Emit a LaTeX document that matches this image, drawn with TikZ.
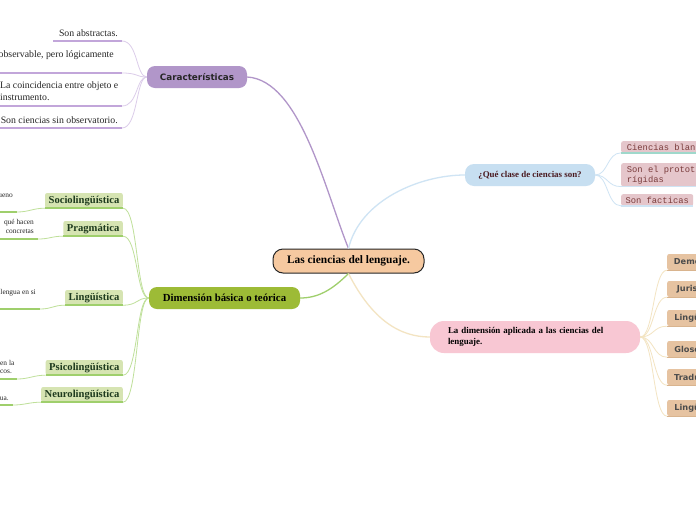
\documentclass[tikz,border=0pt]{standalone}
\usepackage{fontspec}
\usetikzlibrary{calc}
\setmainfont{Liberation Serif}
\newfontfamily\verd{DejaVu Sans}
\newfontfamily\monof{Liberation Mono}
\definecolor{peach}{HTML}{F6C9A0}
\definecolor{purp}{HTML}{B196C9}
\definecolor{purpline}{HTML}{C2A6DA}
\definecolor{purpthin}{HTML}{DCCDEA}
\definecolor{olive}{HTML}{9DBB36}
\definecolor{greenbox}{HTML}{D6E4B2}
\definecolor{greenline}{HTML}{9FCF6C}
\definecolor{greenthin}{HTML}{BFE09A}
\definecolor{greentext}{HTML}{1E3A1E}
\definecolor{bluebox}{HTML}{C7DFF1}
\definecolor{bluethin}{HTML}{CFE4F4}
\definecolor{rosebox}{HTML}{E5C6CB}
\definecolor{rosetext}{HTML}{7A3C3C}
\definecolor{teal}{HTML}{9FD8CB}
\definecolor{pinkbox}{HTML}{F8C7D3}
\definecolor{tanbox}{HTML}{E6C3A1}
\definecolor{tanline}{HTML}{D9B48E}
\definecolor{tanthin}{HTML}{F3E4C2}
\definecolor{bluetext}{HTML}{4A1A20}
\tikzset{
  centralbox/.style={draw=black!85, line width=1pt, fill=peach, rounded corners=10pt,
     minimum width=151pt, minimum height=24pt, font=\bfseries\fontsize{11.4}{13}\selectfont, inner sep=0pt},
  purpbox/.style={fill=purp, rounded corners=8pt, minimum width=100pt, minimum height=22pt,
     font=\verd\bfseries\fontsize{8.8}{10}\selectfont, text=black!85, inner sep=0pt},
  leaftext/.style={font=\fontsize{9.8}{11.5}\selectfont, inner sep=0pt, text=black!85},
  smalltext/.style={font=\fontsize{7.4}{8.6}\selectfont, inner sep=0pt, text=black!85},
  olivebox/.style={fill=olive, rounded corners=8pt, minimum width=151pt, minimum height=22pt,
     font=\bfseries\fontsize{10.8}{12}\selectfont, inner sep=0pt},
  greenleaf/.style={fill=greenbox, rounded corners=2pt, minimum height=15pt, anchor=east,
     font=\bfseries\fontsize{10.6}{12}\selectfont, text=greentext, inner xsep=3.5pt, inner ysep=0pt},
  bluenode/.style={fill=bluebox, rounded corners=9pt, minimum width=130pt, minimum height=22pt,
     font=\bfseries\fontsize{8.9}{10}\selectfont, text=bluetext, inner sep=0pt},
  roseleaf/.style={fill=rosebox, rounded corners=2pt, anchor=north west, align=left,
     font=\monof\fontsize{8.8}{10}\selectfont, text=rosetext, inner xsep=3pt, inner ysep=2.5pt},
  pinknode/.style={fill=pinkbox, rounded corners=14pt, minimum width=210pt, minimum height=32pt,
     font=\bfseries\fontsize{8.9}{11}\selectfont, align=left, text width=174pt, inner sep=0pt},
  tanleaf/.style={fill=tanbox, rounded corners=2pt, minimum height=16pt, anchor=west,
     font=\verd\bfseries\fontsize{8.2}{9}\selectfont, text=black!70, inner xsep=2pt, inner ysep=0pt},
  mainpurp/.style={draw=purp, line width=1.3pt},
  thinpurp/.style={draw=purpthin, line width=0.8pt},
  ulpurp/.style={draw=purpline, line width=1.5pt},
  maingreen/.style={draw=greenline, line width=1.3pt},
  thingreen/.style={draw=greenthin, line width=0.8pt},
  ulgreen/.style={draw=greenline, line width=1.5pt},
  mainblue/.style={draw=bluethin, line width=1.3pt},
  thinblue/.style={draw=bluethin, line width=0.8pt},
  maintan/.style={draw=tanthin, line width=1.3pt},
  thintan/.style={draw=tanthin, line width=0.8pt},
}
\begin{document}
\begin{tikzpicture}[x=1pt,y=-1pt]
\useasboundingbox[fill=white] (0,0) rectangle (696,520);

% central
\node[centralbox] (c) at (348.5,261) {Las ciencias del lenguaje.};

% Caracteristicas
\node[purpbox] (car) at (197,77) {Características};
\draw[mainpurp] (car.east) .. controls (300,80) and (325,190) .. (c.north);

\node[leaftext, anchor=east] (l1) at (118,33) {Son abstractas.};
\node[leaftext, anchor=east] (l2) at (114,55) {observable, pero lógicamente};
\node[leaftext, anchor=north west, align=left] (l3) at (0,81.5) {La coincidencia entre objeto e\\instrumento.};
\node[leaftext, anchor=east] (l4) at (118,120) {Son ciencias sin observatorio.};
\coordinate (u1a) at (53,41);  \coordinate (u1b) at (122,41);
\coordinate (u2a) at (0,73);   \coordinate (u2b) at (122,73);
\coordinate (u3a) at (0,106);  \coordinate (u3b) at (122,106);
\coordinate (u4a) at (0,128);  \coordinate (u4b) at (122,128);
\foreach \i in {1,2,3,4}{
  \draw[ulpurp] (u\i a) -- (u\i b);
  \draw[thinpurp] (u\i b) .. controls ($(u\i b)+(16,0)$) and (136,77) .. (car.west);
}

% Dimension basica
\node[olivebox] (g) at (224.5,298) {Dimensión básica o teórica};
\draw[maingreen] (c.south) .. controls (332,290) and (318,298) .. (g.east);

\node[greenleaf] (s1) at (123,200.5) {Sociolingüística};
\node[greenleaf] (s2) at (123,228.5) {Pragmática};
\node[greenleaf] (s3) at (123,297.5) {Lingüística};
\node[greenleaf] (s4) at (123,367.5) {Psicolingüística};
\node[greenleaf] (s5) at (123,394.5) {Neurolingüística};
\foreach \i in {1,...,5}{
  \draw[ulgreen] (s\i.south west) -- (s\i.south east);
  \draw[thingreen] (s\i.south east) .. controls ($(s\i.south east)+(15,0)$) and (136,298) .. (g.west);
}

\node[smalltext, anchor=east] (t1) at (13,196) {ueno};
\node[smalltext, anchor=east, align=right] (t2) at (34,226.5) {qué hacen\\concretas};
\node[smalltext, anchor=east] (t3) at (36,293) {lengua en si};
\node[smalltext, anchor=west, align=left] (t4) at (0,367) {en la\\cos.};
\node[smalltext, anchor=east] (t5) at (9,399) {ua.};
\coordinate (v1a) at (0,212); \coordinate (v1b) at (17,212);
\coordinate (v2a) at (0,239); \coordinate (v2b) at (38,239);
\coordinate (v3a) at (0,309); \coordinate (v3b) at (40,309);
\coordinate (v4a) at (0,379); \coordinate (v4b) at (17,379);
\coordinate (v5a) at (0,405); \coordinate (v5b) at (13,405);
\foreach \i in {1,...,5}{
  \draw[ulgreen] (v\i a) -- (v\i b);
  \draw[thingreen] (v\i b) .. controls ($(v\i b)+(12,0)$) and ($(s\i.south west)+(-12,0)$) .. (s\i.south west);
}

% Que clase
\node[bluenode] (b) at (530,175) {¿Qué clase de ciencias son?};
\draw[mainblue] (c.north) .. controls (360,200) and (420,175) .. (b.west);

\node[roseleaf, minimum width=80pt] (q1) at (621,141) {Ciencias blan};
\node[roseleaf, minimum width=80pt] (q2) at (621,163) {Son el protot\\rígidas};
\node[roseleaf, minimum width=72pt] (q3) at (621,194) {Son facticas};
\draw[draw=teal, line width=1.5pt] (q1.south west) -- (q1.south east);
\draw[draw=bluethin, line width=1.5pt] (q2.south west) -- (q2.south east);
\draw[draw=bluethin, line width=1.5pt] (q3.south west) -- (q3.south east);
\foreach \i in {1,2,3}{
  \draw[thinblue] (b.east) .. controls (608,175) and ($(q\i.south west)+(-14,0)$) .. (q\i.south west);
}

% Dimension aplicada
\node[pinknode] (a) at (535,337) {La dimensión aplicada a las ciencias del\\lenguaje.};
\draw[maintan] (c.south) .. controls (372,320) and (400,337) .. (a.west);

\node[tanleaf, minimum width=40pt] (r1) at (667,262) {Demo};
\node[tanleaf, minimum width=40pt] (r2) at (667,289) {Juris};
\node[tanleaf, minimum width=40pt] (r3) at (667,318) {Lingü};
\node[tanleaf, minimum width=40pt] (r4) at (667,349) {Gloso};
\node[tanleaf, minimum width=40pt] (r5) at (667,377) {Tradu};
\node[tanleaf, minimum width=40pt] (r6) at (667,408) {Lingü};
\foreach \i in {1,...,6}{
  \draw[draw=tanline, line width=1.2pt] (r\i.south west) -- (r\i.south east);
  \draw[thintan] (a.east) .. controls (654,337) and ($(r\i.south west)+(-14,0)$) .. (r\i.south west);
}
\end{tikzpicture}
\end{document}
